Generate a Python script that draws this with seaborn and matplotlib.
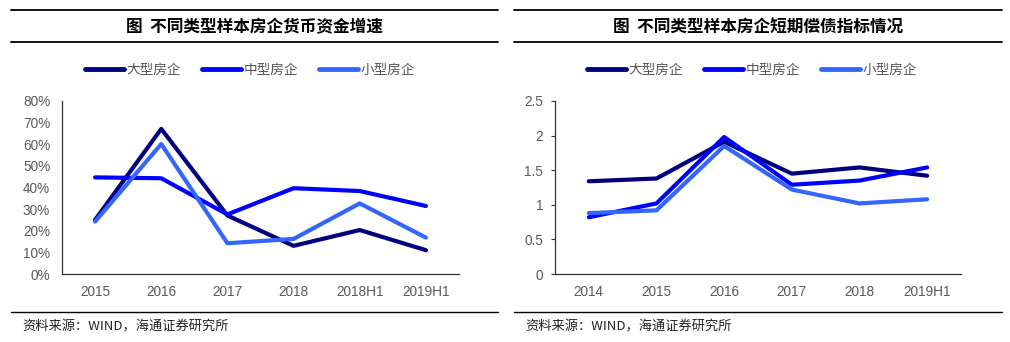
import matplotlib
matplotlib.use("Agg")
import matplotlib.pyplot as plt
from matplotlib.lines import Line2D
from matplotlib.ticker import FuncFormatter
import seaborn as sns
import pandas as pd

sns.set_theme(style="white")
plt.rcParams['font.family'] = ['Liberation Sans', 'Noto Sans CJK SC', 'DejaVu Sans']

series_names = ["大型房企", "中型房企", "小型房企"]
palette = ["#000080", "#0000FF", "#3366FF"]

# Left panel: cash balance growth (%)
cash_periods = ["2015", "2016", "2017", "2018", "2018H1", "2019H1"]
cash_large = [25, 67, 27, 13, 20.3, 11]
cash_mid = [44.6, 44.2, 27.5, 39.6, 38.3, 31.4]
cash_small = [24.2, 60, 14.2, 16.2, 32.6, 16.8]

# Right panel: short-term solvency ratio
solv_periods = ["2014", "2015", "2016", "2017", "2018", "2019H1"]
solv_large = [1.34, 1.38, 1.91, 1.45, 1.54, 1.42]
solv_mid = [0.82, 1.02, 1.98, 1.29, 1.35, 1.54]
solv_small = [0.88, 0.92, 1.85, 1.22, 1.02, 1.08]

title_left = "图  不同类型样本房企货币资金增速"
title_right = "图  不同类型样本房企短期偿债指标情况"
source_text = "资料来源：WIND，海通证券研究所"

tick_color = "#595959"
cjk = ['Noto Sans CJK SC', 'DejaVu Sans']


def long_frame(periods, large, mid, small):
    rows = []
    for name, vals in zip(series_names, [large, mid, small]):
        for i, (p, v) in enumerate(zip(periods, vals)):
            rows.append({"pos": i, "period": p, "series": name, "value": v})
    return pd.DataFrame(rows)


W, H = 1010, 342
fig = plt.figure(figsize=(W / 100, H / 100), dpi=100)


def fx(px):
    return px / W


def fy(py):
    return 1 - py / H


def draw_panel(ax_rect, df, periods, ylim, yticks, yfmt, title, x0, x1, legend_x,
               ytick_len, ypad):
    ax = fig.add_axes(ax_rect)
    sns.lineplot(data=df, x="pos", y="value", hue="series", hue_order=series_names,
                 palette=palette, linewidth=3.0, ax=ax, legend=False, sort=False)
    ax.set_xlim(-0.5, len(periods) - 0.5)
    ax.set_ylim(*ylim)
    ax.set_yticks(yticks)
    ax.yaxis.set_major_formatter(FuncFormatter(yfmt))
    ax.set_xticks(range(len(periods)))
    ax.set_xticklabels(periods)
    ax.set_xticks([i - 0.5 for i in range(len(periods) + 1)], minor=True)
    ax.tick_params(axis="x", which="major", length=0, pad=8, labelsize=9.8, labelcolor=tick_color)
    ax.tick_params(axis="x", which="minor", length=4, width=0.8, color="#333333", direction="out")
    ax.tick_params(axis="y", length=ytick_len, width=0.8, color="#333333", pad=ypad,
                   labelsize=9.8, labelcolor=tick_color, left=ytick_len > 0)
    ax.set_xlabel("")
    ax.set_ylabel("")
    for s in ["top", "right"]:
        ax.spines[s].set_visible(False)
    for s in ["left", "bottom"]:
        ax.spines[s].set_color("#333333")
        ax.spines[s].set_linewidth(0.9)

    # rules and title
    for py, lw in [(9.5, 1.3), (42, 1.3), (312, 1.0)]:
        fig.add_artist(Line2D([fx(x0), fx(x1)], [fy(py), fy(py)], color="black",
                              linewidth=lw, transform=fig.transFigure))
    fig.text(fx((x0 + x1) / 2), fy(27), title, ha="center", va="center", fontsize=12,
             fontweight="bold", family=cjk, color="black")
    fig.text(fx(x0 + 11), fy(327), source_text, ha="left", va="center", fontsize=9.5,
             family=cjk, color="#222222")

    # legend
    handles = [Line2D([0], [0], color=c, linewidth=3.5) for c in palette]
    fig.legend(handles, series_names, loc="center", bbox_to_anchor=(fx(legend_x), fy(70)),
               ncol=3, frameon=False, handlelength=2.9, handletextpad=0.2,
               columnspacing=1.5, prop={"family": cjk, "size": 9.8},
               labelcolor="#555555")
    return ax


df_cash = long_frame(cash_periods, cash_large, cash_mid, cash_small)
df_solv = long_frame(solv_periods, solv_large, solv_mid, solv_small)

draw_panel([fx(62), fy(274), fx(459) - fx(62), fy(100.7) - fy(274)], df_cash, cash_periods,
           (0, 80), range(0, 81, 10), lambda v, _: f"{v:.0f}%", title_left, 11, 498, 250,
           0, 8.5)

draw_panel([fx(555), fy(274), fx(961) - fx(555), fy(101) - fy(274)], df_solv, solv_periods,
           (0, 2.5), [0, 0.5, 1, 1.5, 2, 2.5], lambda v, _: f"{v:g}", title_right, 514, 1002,
           752, 3, 5.5)

fig.savefig("out.png", dpi=100)
